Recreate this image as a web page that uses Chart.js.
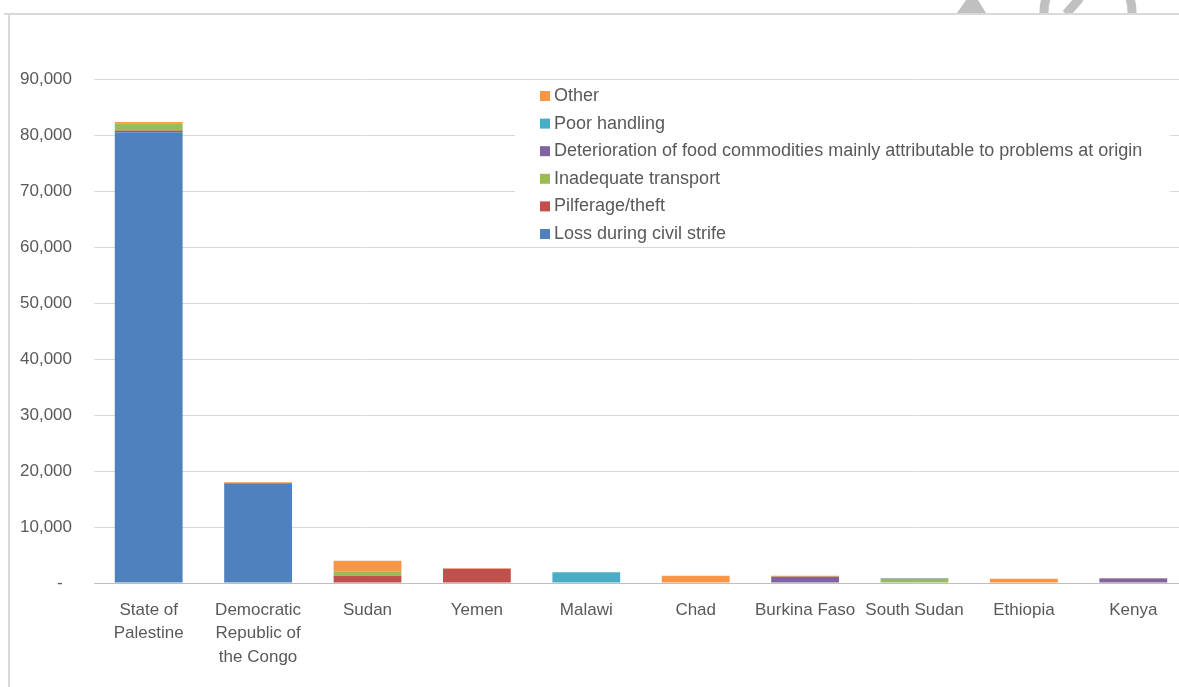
<!DOCTYPE html>
<html>
<head>
<meta charset="utf-8">
<script src="https://cdn.jsdelivr.net/npm/chart.js@4/dist/chart.umd.min.js"></script>
<style>
  html, body { margin: 0; padding: 0; background: #fff; overflow: hidden; }
  #wrap { position: relative; width: 1179px; height: 687px; overflow: hidden; }
</style>
</head>
<body>
<div id="wrap"><canvas id="lossChart" width="1192" height="687"></canvas></div>
<script>
// countries (x axis)
const countries = [
    ["State of", "Palestine"],
    ["Democratic", "Republic of", "the Congo"],
    "Sudan", "Yemen", "Malawi", "Chad", "Burkina Faso", "South Sudan", "Ethiopia", "Kenya"
];

// loss per cause, in tonnes
const civilStrife   = [80500, 17800, 0, 0, 0, 0, 0, 0, 0, 0];
const pilferage     = [300, 0, 1250, 2550, 0, 0, 0, 100, 0, 0];
const transport     = [1200, 0, 770, 0, 0, 0, 0, 600, 0, 0];
const deterioration = [0, 0, 0, 0, 0, 0, 1100, 0, 0, 800];
const poorHandling  = [0, 0, 0, 0, 1900, 0, 0, 100, 0, 0];
const other         = [300, 200, 1960, 100, 0, 1300, 200, 100, 780, 100];

const yTicks = [0, 10000, 20000, 30000, 40000, 50000, 60000, 70000, 80000, 90000];

const textColor = "#595959";
const font = "'Liberation Sans', Arial, sans-serif";

// frame round the chart and the bit of logo showing above it
const framePlugin = {
    id: "frame",
    beforeDraw(chart) {
        const ctx = chart.ctx;
        ctx.save();
        ctx.fillStyle = "#c0c0c0";
        ctx.beginPath();
        ctx.moveTo(957, 13);
        ctx.lineTo(986, 13);
        ctx.lineTo(978, 0);
        ctx.lineTo(966, 0);
        ctx.closePath();
        ctx.fill();
        ctx.beginPath();
        ctx.rect(0, 0, 1179, 13);
        ctx.clip();
        ctx.strokeStyle = "#c0c0c0";
        ctx.lineWidth = 9;
        ctx.beginPath();
        ctx.arc(1088, 12, 44, 0, Math.PI * 2);
        ctx.stroke();
        ctx.beginPath();
        ctx.moveTo(1066, 14);
        ctx.lineTo(1080, -2);
        ctx.stroke();
        ctx.restore();

        ctx.save();
        ctx.strokeStyle = "#d9d9d9";
        ctx.lineWidth = 2;
        ctx.beginPath();
        ctx.moveTo(4, 14);
        ctx.lineTo(1192, 14);
        ctx.moveTo(9, 14);
        ctx.lineTo(9, 687);
        ctx.stroke();
        ctx.restore();
    }
};

// legend box drawn inside the plot, items in reverse order
const boxLegend = {
    id: "boxLegend",
    afterDraw(chart) {
        const ctx = chart.ctx;
        const sets = chart.data.datasets.slice().reverse();
        ctx.save();
        ctx.fillStyle = "#fff";
        ctx.fillRect(515, 83, 655, 164);
        ctx.font = "18px " + font;
        ctx.textBaseline = "middle";
        sets.forEach((ds, i) => {
            const y = 96 + i * 27.6;
            ctx.fillStyle = ds.backgroundColor;
            ctx.fillRect(540, y - 5, 10, 10);
            ctx.fillStyle = textColor;
            ctx.fillText(ds.label, 554, y);
        });
        ctx.restore();
    }
};

new Chart(document.getElementById("lossChart"), {
    type: "bar",
    data: {
        labels: countries,
        datasets: [
            { label: "Loss during civil strife", data: civilStrife, backgroundColor: "#4F81BD" },
            { label: "Pilferage/theft", data: pilferage, backgroundColor: "#C0504D" },
            { label: "Inadequate transport", data: transport, backgroundColor: "#9BBB59" },
            { label: "Deterioration of food commodities mainly attributable to problems at origin", data: deterioration, backgroundColor: "#8064A2" },
            { label: "Poor handling", data: poorHandling, backgroundColor: "#4BACC6" },
            { label: "Other", data: other, backgroundColor: "#F79646" }
        ]
    },
    options: {
        responsive: false,
        animation: false,
        layout: { padding: { top: 79, right: 4, left: 0, bottom: 0 } },
        datasets: { bar: { categoryPercentage: 1, barPercentage: 0.62 } },
        plugins: {
            legend: { display: false },
            tooltip: { enabled: false }
        },
        scales: {
            x: {
                stacked: true,
                grid: { display: false, drawTicks: false },
                border: { color: "#bfbfbf", width: 1 },
                ticks: {
                    color: textColor,
                    font: { family: font, size: 17, lineHeight: 1.4 },
                    padding: 15,
                    maxRotation: 0,
                    autoSkip: false
                },
                afterFit(scale) { scale.height = 104; }
            },
            y: {
                stacked: true,
                min: 0,
                max: 90000,
                afterBuildTicks(scale) { scale.ticks = yTicks.map(v => ({ value: v })); },
                grid: { color: "#d9d9d9", lineWidth: 1, drawTicks: false },
                border: { display: false },
                ticks: {
                    color: textColor,
                    font: { family: font, size: 17 },
                    padding: 22,
                    callback: v => v === 0 ? "-  " : v.toLocaleString("en-US")
                },
                afterFit(scale) { scale.width = 94; }
            }
        }
    },
    plugins: [framePlugin, boxLegend]
});
</script>
</body>
</html>
